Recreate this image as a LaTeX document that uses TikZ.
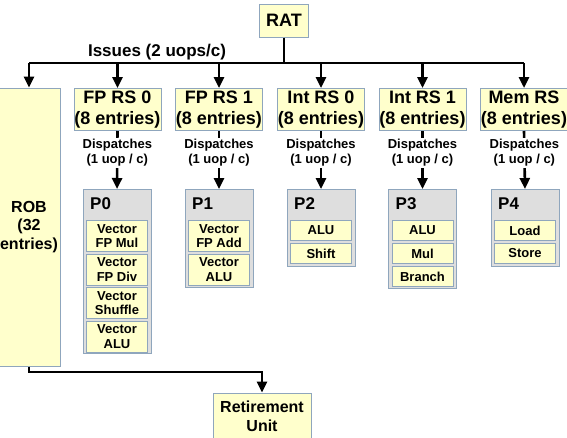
\documentclass[tikz,border=0pt]{standalone}
\usepackage{fontspec}
\setmainfont{Liberation Sans}
\usetikzlibrary{arrows.meta}
\newlength{\du}
\setlength{\du}{1pt}
\definecolor{boxfill}{rgb}{1.000000, 1.000000, 0.800000}
\definecolor{boxline}{rgb}{0.560000, 0.650000, 0.740000}
\definecolor{portfill}{rgb}{0.870000, 0.870000, 0.870000}
\tikzset{
  bigbox/.style={draw=boxline, fill=boxfill, line width=1\du, inner sep=0pt, align=center,
    font=\bfseries\fontsize{18}{20.5}\selectfont},
  rsbox/.style={bigbox, minimum width=87\du, minimum height=42\du, anchor=north},
  portbox/.style={draw=boxline, fill=portfill, line width=1\du, inner sep=0pt,
    minimum width=68\du, anchor=north},
  portname/.style={anchor=west, inner sep=0pt, font=\bfseries\fontsize{17}{19}\selectfont},
  unitbox/.style={draw=boxline, fill=boxfill, line width=1\du, inner sep=0pt, align=center,
    minimum width=61\du, anchor=north, font=\bfseries\fontsize{13}{14.5}\selectfont},
  onerow/.style={unitbox, minimum height=20\du},
  tworow/.style={unitbox, minimum height=31\du},
  wire/.style={line width=2.6\du, draw=black},
  feed/.style={wire, -{Triangle[length=11pt,width=10pt]}},
  dispatch/.style={fill=white, inner sep=1\du, align=center, pos=0.38,
    font=\bfseries\fontsize{13}{15}\selectfont}
}

\begin{document}
\begin{tikzpicture}
\pgftransformxscale{1.000000}
\pgftransformyscale{-1.000000}
\useasboundingbox (0\du,0\du) rectangle (567\du,437\du);

% front end
\node[bigbox, minimum width=49\du, minimum height=33\du] (rat) at (284\du,20.5\du) {RAT};
\node[bigbox, minimum width=62\du, minimum height=278\du, font=\bfseries\fontsize{16}{18.5}\selectfont] (rob) at (29\du,227\du) {ROB\\(32\\entries)};
\coordinate (busl) at (29\du,63\du);
\coordinate (busr) at (524\du,63\du);
\node[font=\bfseries\fontsize{17}{19}\selectfont, inner sep=0pt] (issues) at (157\du,52\du) {Issues (2 uops/c)};

% reservation stations
\node[rsbox] (rs0) at (117.5\du,88\du) {FP RS 0\\(8 entries)};
\node[rsbox] (rs1) at (219\du,88\du) {FP RS 1\\(8 entries)};
\node[rsbox] (rs2) at (321\du,88\du) {Int RS 0\\(8 entries)};
\node[rsbox] (rs3) at (422.5\du,88\du) {Int RS 1\\(8 entries)};
\node[rsbox] (rs4) at (524\du,88\du) {Mem RS\\(8 entries)};

% ports
\node[portbox, minimum height=164\du] (p0) at (117\du,189\du) {};
\node[portbox, minimum height=98\du] (p1) at (219\du,189\du) {};
\node[portbox, minimum height=77\du] (p2) at (321\du,189\du) {};
\node[portbox, minimum height=99\du] (p3) at (422.5\du,189\du) {};
\node[portbox, minimum height=77\du] (p4) at (525\du,189\du) {};
\node[portname] (p0name) at (90\du,204\du) {P0};
\node[portname] (p1name) at (192\du,204\du) {P1};
\node[portname] (p2name) at (294\du,204\du) {P2};
\node[portname] (p3name) at (395.5\du,204\du) {P3};
\node[portname] (p4name) at (498\du,204\du) {P4};

% execution units
\node[tworow] (p0a) at (117\du,220\du) {Vector\\FP Mul};
\node[tworow] (p0b) at (117\du,253.5\du) {Vector\\FP Div};
\node[tworow] (p0c) at (117\du,287\du) {Vector\\Shuffle};
\node[tworow] (p0d) at (117\du,320.5\du) {Vector\\ALU};
\node[tworow] (p1a) at (219\du,220\du) {Vector\\FP Add};
\node[tworow] (p1b) at (219\du,253.5\du) {Vector\\ALU};
\node[onerow] (p2a) at (321\du,220\du) {ALU};
\node[onerow] (p2b) at (321\du,243\du) {Shift};
\node[onerow] (p3a) at (422.5\du,220\du) {ALU};
\node[onerow] (p3b) at (422.5\du,243\du) {Mul};
\node[onerow] (p3c) at (422.5\du,266\du) {Branch};
\node[onerow] (p4a) at (525\du,220\du) {Load};
\node[onerow] (p4b) at (525\du,243\du) {Store};

% retirement
\node[bigbox, minimum width=98\du, minimum height=46\du, font=\bfseries\fontsize{16}{19}\selectfont] (ret) at (262\du,416\du) {Retirement\\Unit};
\coordinate (retbus) at (0\du,372\du);

% issue bus
\draw[wire] (rat.south) -- (rat.south |- busl);
\draw[wire, line cap=butt] (busl) -- (busr);
\draw[feed] (busl) -- (rob.north);
\draw[feed] (rs0.north |- busl) -- (rs0.north);
\draw[feed] (rs1.north |- busl) -- (rs1.north);
\draw[feed] (rs2.north |- busl) -- (rs2.north);
\draw[feed] (rs3.north |- busl) -- (rs3.north);
\draw[feed] (rs4.north |- busl) -- (rs4.north);

% dispatch
\draw[feed] (rs0.south) -- (p0.north) node[dispatch] (d0) {Dispatches\\(1 uop / c)};
\draw[feed] (rs1.south) -- (p1.north) node[dispatch] (d1) {Dispatches\\(1 uop / c)};
\draw[feed] (rs2.south) -- (p2.north) node[dispatch] (d2) {Dispatches\\(1 uop / c)};
\draw[feed] (rs3.south) -- (p3.north) node[dispatch] (d3) {Dispatches\\(1 uop / c)};
\draw[feed] (rs4.south) -- (p4.north) node[dispatch] (d4) {Dispatches\\(1 uop / c)};

% retire
\draw[feed] (rob.south) -- (rob.south |- retbus) -| (ret.north);
\end{tikzpicture}
\end{document}
